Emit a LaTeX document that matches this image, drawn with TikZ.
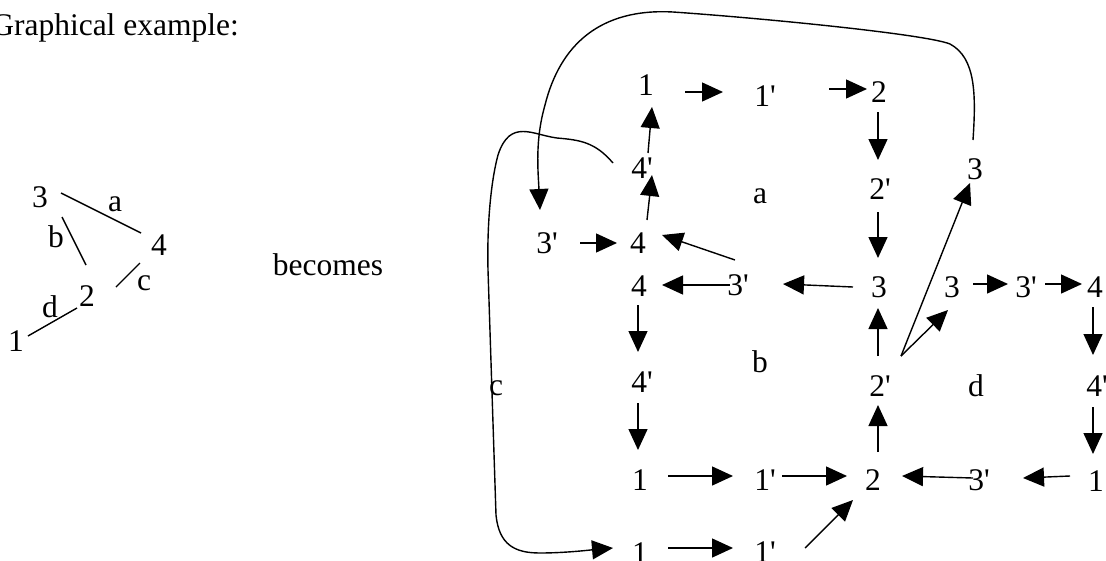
\documentclass[tikz,border=0pt]{standalone}
\usepackage{fontspec}
\setmainfont{Liberation Serif}
\usetikzlibrary{arrows.meta,calc}
\newcommand{\myq}{\textquotesingle}
\begin{document}
\begin{tikzpicture}[x=1pt,y=-1pt,
  lbl/.style={inner sep=0pt,font=\fontsize{31.5}{36}\selectfont},
  ln/.style={line width=1.4pt},
  arr/.style={line width=1.4pt,-{Triangle[length=21pt,width=19pt]}}]
\useasboundingbox (0,0) rectangle (1106,560);
% title
\node[lbl,anchor=base east] (title) at (239,35) {Graphical example:};
\node[lbl,anchor=base] (becomes) at (328,275) {becomes};
% left graph
\node[lbl] (L3) at (40,197) {3};
\node[lbl] (La) at (115,204) {a};
\node[lbl] (L4) at (159,245) {4};
\node[lbl] (Lb) at (56,237) {b};
\node[lbl] (L2) at (87,296) {2};
\node[lbl] (Lc) at (144,283) {c};
\node[lbl] (Ld) at (50,307) {d};
\node[lbl] (L1) at (16,341) {1};
\draw[ln] ($(L3)+(21,-4)$) -- ($(L4)+(-18,-12)$);
\draw[ln] ($(L3)+(22,20)$) -- ($(L2)+(-1,-31)$);
\draw[ln] ($(L4)+(-19,18)$) -- ($(L2)+(29,-9)$);
\draw[ln] ($(L2)+(-10,12)$) -- ($(L1)+(12,-5)$);
% right diagram nodes
\node[lbl] (A1) at (646,85) {1};
\node[lbl] (A1p) at (765,96) {1\myq};
\node[lbl] (A2) at (879,92) {2};
\node[lbl] (A2p) at (880,189) {2\myq};
\node[lbl] (A3) at (879,287) {3};
\node[lbl] (R3t) at (975,169) {3};
\node[lbl] (R3) at (952,287) {3};
\node[lbl] (R3p) at (1026,287) {3\myq};
\node[lbl] (R4) at (1095,287) {4};
\node[lbl] (R4p) at (1097,386) {4\myq};
\node[lbl] (R1) at (1096,481) {1};
\node[lbl] (B3p) at (979,480) {3\myq};
\node[lbl] (B2) at (873,480) {2};
\node[lbl] (M2p) at (880,386) {2\myq};
\node[lbl] (M3p) at (738,285) {3\myq};
\node[lbl] (M4) at (639,286) {4};
\node[lbl] (U4) at (638,243) {4};
\node[lbl] (U3p) at (547,243) {3\myq};
\node[lbl] (U4p) at (642,168) {4\myq};
\node[lbl] (Ta) at (760,196) {a};
\node[lbl] (L4p) at (642,382) {4\myq};
\node[lbl] (L1n) at (640,480) {1};
\node[lbl] (L1p) at (765,480) {1\myq};
\node[lbl] (Tb) at (760,362) {b};
\node[lbl] (Td) at (976,386) {d};
\node[lbl] (Tc) at (496,388) {c};
\node[lbl] (BB1) at (640,553) {1};
\node[lbl] (BB1p) at (765,552) {1\myq};
% arrows
\draw[arr] ($(A1)+(39,7)$) -- ($(A1p)+(-42,-4)$);
\draw[arr] ($(A1p)+(64,-7)$) -- ($(A2)+(-12,-3)$);
\draw[arr] ($(A2)+(-1,20)$) -- ($(A2p)+(-2,-29)$);
\draw[arr] ($(A2p)+(-2,23)$) -- ($(A3)+(-1,-29)$);
\draw[arr] ($(A3)+(-26,0)$) -- ($(M3p)+(45,-1)$);
\draw[arr] ($(M3p)+(-8,0)$) -- ($(M4)+(23,-1)$);
\draw[arr] ($(M3p)+(-3,-25)$) -- ($(U4)+(24,-8)$);
\draw[arr] ($(U3p)+(33,0)$) -- ($(U4)+(-21,0)$);
\draw[arr] ($(U4)+(9,-23)$) -- ($(U4p)+(10,7)$);
\draw[arr] ($(U4p)+(6,-15)$) -- ($(A1)+(6,22)$);
\draw[arr] ($(M4)+(-1,19)$) -- ($(L4p)+(-4,-30)$);
\draw[arr] ($(L4p)+(-4,21)$) -- ($(L1n)+(-2,-30)$);
\draw[arr] ($(L1n)+(28,-4)$) -- ($(L1p)+(-32,-4)$);
\draw[arr] ($(L1p)+(17,-4)$) -- ($(B2)+(-26,-4)$);
\draw[arr] ($(BB1)+(28,-5)$) -- ($(BB1p)+(-32,-4)$);
\draw[arr] ($(BB1p)+(40,-4)$) -- ($(B2)+(-20,20)$);
\draw[arr] ($(B2)+(5,-28)$) -- ($(M2p)+(-2,19)$);
\draw[arr] ($(M2p)+(-2,-30)$) -- ($(A3)+(-1,21)$);
\draw[arr] ($(M2p)+(21,-30)$) -- ($(R3t)+(-5,14)$);
\draw[arr] ($(M2p)+(21,-30)$) -- ($(R3)+(-4,23)$);
\draw[arr] ($(R3)+(21,-3)$) -- ($(R3p)+(-18,-3)$);
\draw[arr] ($(R3p)+(19,-3)$) -- ($(R4)+(-13,-3)$);
\draw[arr] ($(R4)+(-2,20)$) -- ($(R4p)+(-4,-31)$);
\draw[arr] ($(R4p)+(-4,21)$) -- ($(R1)+(-3,-27)$);
\draw[arr] ($(R1)+(-26,-5)$) -- ($(B3p)+(44,-2)$);
\draw[arr] ($(B3p)+(-6,-2)$) -- ($(B2)+(29,-4)$);
% big curve from 3 to 3'
\draw[arr] ($(R3t)+(-2,-29)$) .. controls (976,95) and (976,58) .. (950,44)
  .. controls (925,34) and (760,18) .. (673,12)
  .. controls (600,8) and (560,45) .. (545,105)
  .. controls (535,140) and (538,170) .. ($(U3p)+(-7,-33)$);
% c curve
\draw[arr] ($(U4p)+(-29,-5)$) .. controls (595,142) and (580,140) .. (557,138)
  .. controls (533,135) and (510,118) .. (498,155)
  .. controls (490,185) and (487,230) .. (488,270)
  -- (496,515)
  .. controls (499,545) and (515,553) .. (540,553)
  .. controls (565,553) and (590,550) .. ($(BB1)+(-27,-5)$);
\end{tikzpicture}
\end{document}
